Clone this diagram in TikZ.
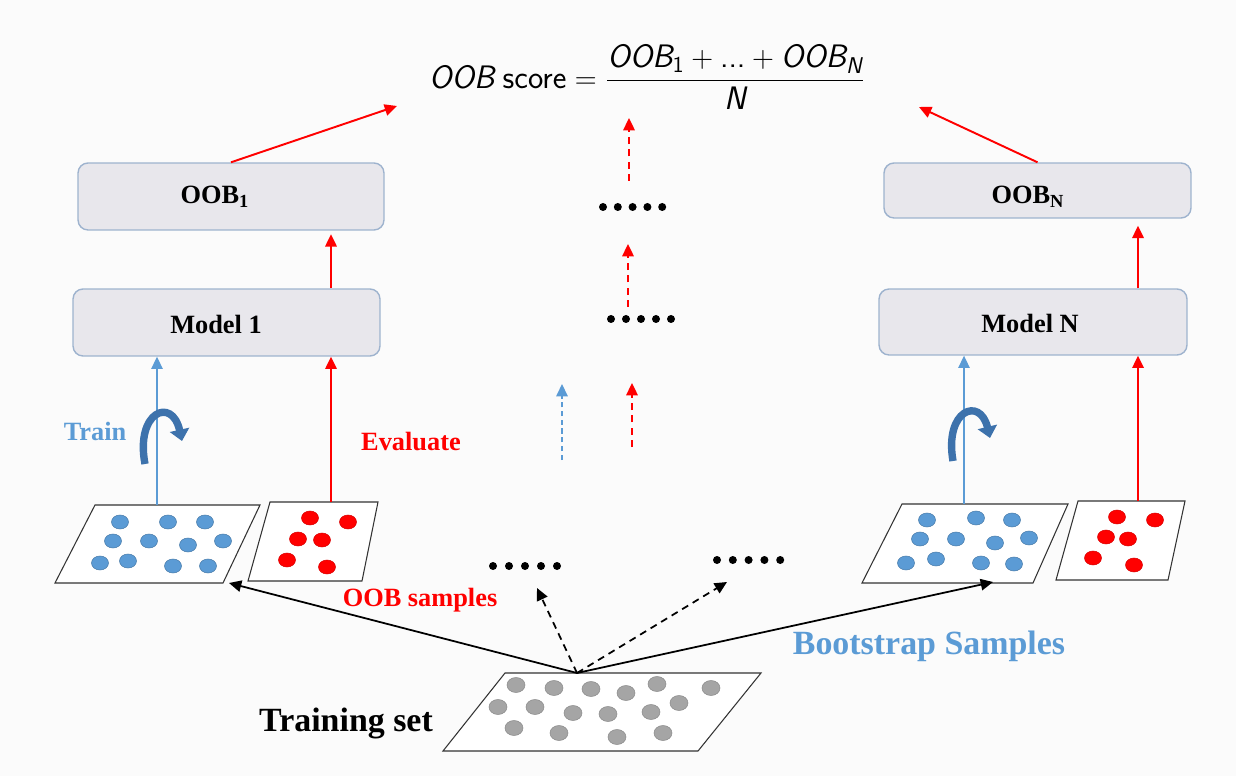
\documentclass[tikz,border=0pt]{standalone}
\usepackage{amsmath}
\usepackage{fontspec}
\setmainfont{Liberation Serif}
\usetikzlibrary{arrows.meta}
\definecolor{bl}{HTML}{5B9BD5}
\definecolor{rd}{HTML}{FF0000}
\definecolor{boxfill}{HTML}{E8E7EC}
\definecolor{boxdraw}{HTML}{9EB3CE}
\definecolor{curvc}{HTML}{3D72AC}
\definecolor{gdot}{HTML}{A5A5A5}
\definecolor{bgc}{HTML}{FBFBFB}
\begin{document}
\begin{tikzpicture}[x=0.02cm,y=-0.02cm,
  mbox/.style={draw=boxdraw, fill=boxfill, rounded corners=0.2cm, line width=0.8pt, inner sep=0pt},
  lbl/.style={font=\fontsize{15}{18}\selectfont\bfseries, inner sep=0pt},
  big/.style={font=\fontsize{19.3}{22}\selectfont\bfseries, inner sep=0pt},
  tip/.style={-{Triangle[length=7pt,width=6.5pt]}},
  redarr/.style={draw=rd, line width=1.1pt, tip},
  bluearr/.style={draw=bl, line width=0.8pt, tip},
  dashred/.style={redarr, dash pattern=on 4pt off 3pt},
  dashblue/.style={bluearr, dash pattern=on 3pt off 2pt},
  blackarr/.style={draw=black, line width=1pt, tip},
  dashblack/.style={blackarr, dash pattern=on 4pt off 3pt},
  para/.style={draw=black!80, line width=0.6pt, fill=white},
  bdot/.style={fill=bl, draw=bl!80!black, line width=0.3pt},
  rdot/.style={fill=rd, draw=rd!85!black, line width=0.3pt},
  gdotst/.style={fill=gdot, draw=gdot!85!black, line width=0.3pt},
  curvarr/.style={draw=curvc, line width=4.2pt, -{Triangle[length=6.5pt,width=11pt]}}
]
\fill[bgc] (0,0) rectangle (1236,776);
\useasboundingbox (0,0) rectangle (1236,776);

% formula
\node[font=\fontsize{18.5}{22}\selectfont, inner sep=0pt] (score) at (647,77)
 {$\textsf{\itshape OOB}\ \textsf{score} = \dfrac{\textsf{\itshape OOB}_{\textsf{1}} + \textsf{...} + \textsf{\itshape OOB}_{\textsf{\itshape N}}}{\textsf{\itshape N}}$};

% boxes
\node[mbox, minimum width=6.12cm, minimum height=1.34cm] (oob1) at (231,196.5) {};
\node[mbox, minimum width=6.14cm, minimum height=1.34cm] (m1) at (226.5,322.5) {};
\node[mbox, minimum width=6.14cm, minimum height=1.10cm] (oobN) at (1037.5,190.5) {};
\node[mbox, minimum width=6.16cm, minimum height=1.32cm] (mN) at (1033,322) {};
\node[lbl] (oob1t) at (215,197) {OOB\textsubscript{1}};
\node[lbl] (m1t) at (216,324) {Model 1};
\node[lbl] (oobNt) at (1028,197) {OOB\textsubscript{N}};
\node[lbl] (mNt) at (1030,323) {Model N};

% parallelograms
\draw[para] (95,505) -- (260,505) -- (223,583) -- (55,583) -- cycle;
\draw[para] (270,502) -- (378,502) -- (362,581) -- (248,581) -- cycle;
\draw[para] (902,504) -- (1068,504) -- (1033,583) -- (862,583) -- cycle;
\draw[para] (1078,501) -- (1185,501) -- (1168,580) -- (1056,580) -- cycle;
\draw[para] (505,673) -- (761,673) -- (698,751) -- (443,751) -- cycle;

% dots
\foreach \x/\y in {120/522,168/522,205/522,113/541,149/541,188/545,223/541,100/563,128/561,173/566,208/566,
                   927/520,976/518,1012/520,920/539,956/539,995/543,1029/538,906/563,936/559,981/563,1014/564}
  \path[bdot] (\x,\y) ellipse [x radius=0.17cm, y radius=0.14cm];
\foreach \x/\y in {310/518,348/522,298/539,322/540,287/560,327/567,
                   1117/517,1155/520,1106/537,1128/539,1093/558,1134/565}
  \path[rdot] (\x,\y) ellipse [x radius=0.17cm, y radius=0.14cm];
\foreach \x/\y in {516/685,554/688,591/689,626/693,657/684,711/688,
                   498/707,535/707,573/713,608/714,651/712,679/703,
                   514/728,559/733,617/737,663/733}
  \path[gdotst] (\x,\y) ellipse [x radius=0.18cm, y radius=0.15cm];

% black dot rows
\foreach \i in {0,...,4} {
  \fill (603+\i*14.8,207) circle [radius=0.08cm];
  \fill (611+\i*15,319) circle [radius=0.08cm];
  \fill (493+\i*16,566) circle [radius=0.08cm];
  \fill (717+\i*15.8,560) circle [radius=0.08cm];
}

% coordinates
\coordinate (bp1) at (157,505);
\coordinate (rp1) at (331,502);
\coordinate (bpN) at (964,504);
\coordinate (rpN) at (1138,501);
\coordinate (t1) at (397,106);
\coordinate (tN) at (919,107);
\coordinate (ts) at (577,673);
\coordinate (lb) at (229,583);
\coordinate (rb) at (993,582);
\coordinate (d1) at (537,588);
\coordinate (d2) at (727,582);
\coordinate (mb0) at (562,460);
\coordinate (mb1) at (562,384);
\coordinate (mr0) at (632,447);
\coordinate (mr1) at (632,383);
\coordinate (mr2) at (628,307);
\coordinate (mr3) at (628,244);
\coordinate (mr4) at (629,181);
\coordinate (mr5) at (629,118);

% connectors
\draw[redarr] (oob1.north) -- (t1);
\draw[redarr] (oobN.north) -- (tN);
\draw[redarr] (rp1 |- m1.north) -- ([yshift=-2pt]rp1 |- oob1.south);
\draw[redarr] (rpN |- mN.north) -- ([yshift=-4pt]rpN |- oobN.south);
\draw[bluearr] (bp1) -- (bp1 |- m1.south);
\draw[redarr] (rp1) -- (rp1 |- m1.south);
\draw[bluearr] (bpN) -- (bpN |- mN.south);
\draw[redarr] (rpN) -- (rpN |- mN.south);
\draw[dashblue] (mb0) -- (mb1);
\draw[dashred] (mr0) -- (mr1);
\draw[dashred] (mr2) -- (mr3);
\draw[dashred] (mr4) -- (mr5);
\draw[blackarr] (ts) -- (lb);
\draw[blackarr] (ts) -- (rb);
\draw[dashblack] (ts) -- (d1);
\draw[dashblack] (ts) -- (d2);

% curved arrows
\draw[curvarr] (145,464) .. controls (135,412) and (172,396) .. (182,441);
\draw[curvarr] (953,461) .. controls (944,410) and (980,396) .. (990,438);

% labels
\node[lbl, text=bl] (train) at (95,431) {Train};
\node[lbl, text=rd] (eval) at (411,442) {Evaluate};
\node[lbl, text=rd] (oobs) at (420,600) {OOB samples};
\node[big, text=bl] (boot) at (929,646) {Bootstrap Samples};
\node[big] (tset) at (346,723) {Training set};
\end{tikzpicture}
\end{document}
